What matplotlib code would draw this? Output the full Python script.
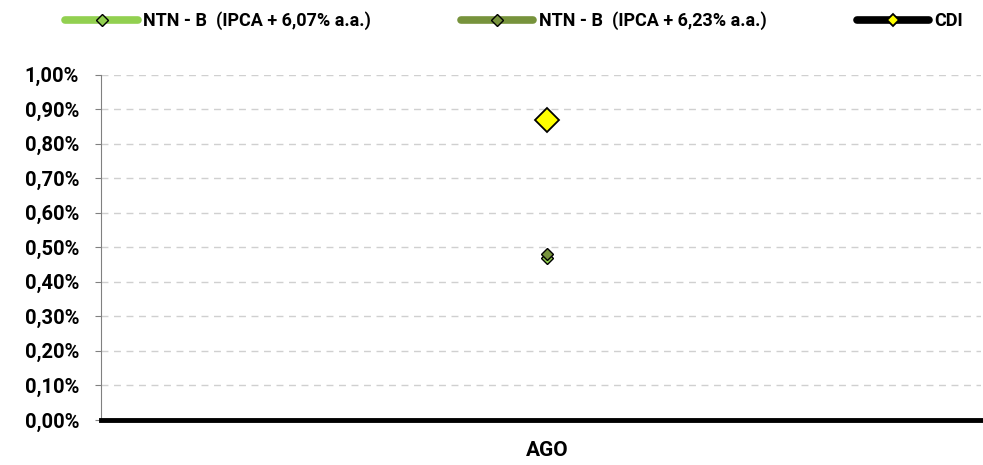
import matplotlib.pyplot as plt
from matplotlib.ticker import FuncFormatter

# data
categories = ["AGO"]
ntnb_607 = [0.47]
ntnb_623 = [0.48]
cdi = [0.87]
series_labels = ["NTN - B  (IPCA + 6,07% a.a.)", "NTN - B  (IPCA + 6,23% a.a.)", "CDI"]
yticks = [0.0, 0.1, 0.2, 0.3, 0.4, 0.5, 0.6, 0.7, 0.8, 0.9, 1.0]

plt.rcParams["font.family"] = ["Roboto", "DejaVu Sans"]
plt.rcParams["font.weight"] = "bold"

fig = plt.figure(figsize=(9.83, 4.65), dpi=100)
ax = fig.add_axes([0.103, 0.097, 0.895, 0.742])

x = range(len(categories))
ax.plot(x, ntnb_607, color="#92D050", lw=5, marker="D", ms=6,
        mfc="#92D050", mec="black", mew=1.0, label=series_labels[0], zorder=3)
ax.plot(x, ntnb_623, color="#77933C", lw=5, marker="D", ms=6,
        mfc="#77933C", mec="black", mew=1.0, label=series_labels[1], zorder=4)
ax.plot(x, cdi, color="black", lw=5, marker="D", ms=12,
        mfc="#FFFF00", mec="black", mew=1.3, label=series_labels[2], zorder=5)

ax.set_xlim(-0.507, 0.493)
ax.set_ylim(0, 1.0)
ax.set_yticks(yticks)
ax.yaxis.set_major_formatter(FuncFormatter(lambda v, _: f"{v:.2f}%".replace(".", ",")))
ax.set_xticks(list(x))
ax.set_xticklabels(categories, fontsize=15, fontweight="bold")
ax.tick_params(axis="x", length=0, pad=15)
ax.tick_params(axis="y", length=4, color="#808080", labelsize=14.5, pad=12)

ax.grid(axis="y", color="#D0D0D0", ls=(0, (5, 4)), lw=1)
ax.set_axisbelow(True)
for s in ["top", "right"]:
    ax.spines[s].set_visible(False)
ax.spines["left"].set_color("#808080")
ax.spines["bottom"].set_color("black")
ax.spines["bottom"].set_linewidth(3.5)

leg = fig.legend(loc="upper left", bbox_to_anchor=(0.05, 1.01), ncol=3, frameon=False,
                 handlelength=4.0, columnspacing=5.0, handletextpad=0.3,
                 prop={"weight": "bold", "size": 13})
for h in leg.legend_handles:
    h.set_markersize(6)
    h.set_linewidth(5.5)
    h.set_solid_capstyle("round")

fig.savefig("out.png", dpi=100)
